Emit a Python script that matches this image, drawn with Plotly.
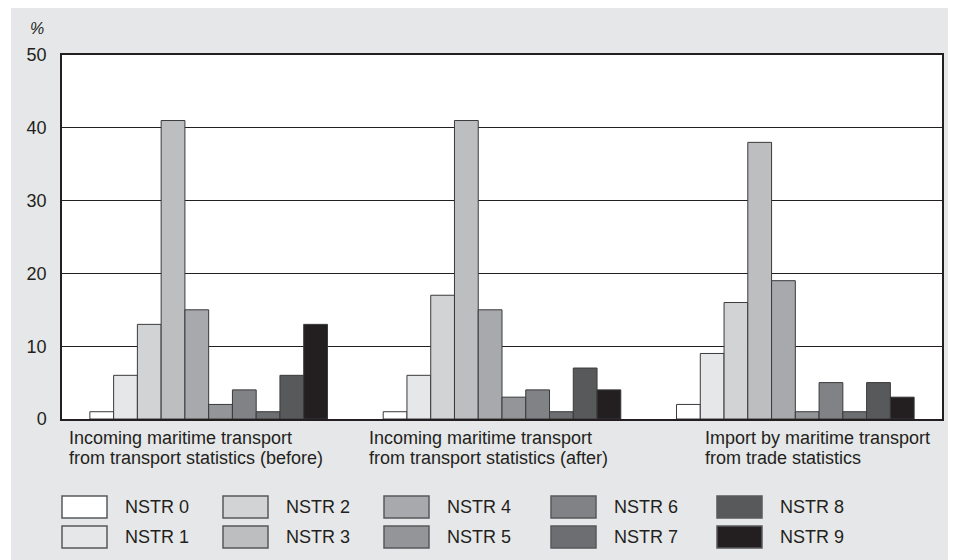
import plotly.graph_objects as go

# ---- data ----
categories = [
    "Incoming maritime transport<br>from transport statistics (before)",
    "Incoming maritime transport<br>from transport statistics (after)",
    "Import by maritime transport<br>from trade statistics",
]
series_names = ["NSTR 0", "NSTR 1", "NSTR 2", "NSTR 3", "NSTR 4",
                "NSTR 5", "NSTR 6", "NSTR 7", "NSTR 8", "NSTR 9"]
nstr0 = [1, 1, 2]
nstr1 = [6, 6, 9]
nstr2 = [13, 17, 16]
nstr3 = [41, 41, 38]
nstr4 = [15, 15, 19]
nstr5 = [2, 3, 1]
nstr6 = [4, 4, 5]
nstr7 = [1, 1, 1]
nstr8 = [6, 7, 5]
nstr9 = [13, 4, 3]
series_values = [nstr0, nstr1, nstr2, nstr3, nstr4, nstr5, nstr6, nstr7, nstr8, nstr9]
y_ticks = [0, 10, 20, 30, 40, 50]
y_unit = "%"

# ---- styles ----
colors = ["#ffffff", "#e6e7e8", "#d1d3d4", "#bcbec0", "#a7a9ac",
          "#939598", "#808285", "#6d6e71", "#58595b", "#231f20"]
FONT = "Liberation Sans, Arial, sans-serif"
TXT = "#231f20"
OFF = 8  # page body margin
W, H = 956 - OFF, 560 - OFF
# plot area in page pixels
PL, PR, PT, PB = 62, 942, 55, 419
L, R, T, B = PL - OFF, PR - OFF, PT - OFF, PB - OFF


def px2x(p):  # page x pixel -> paper
    return (p - OFF - L) / (R - L)


def py2y(p):  # page y pixel -> paper
    return (B - (p - OFF)) / (B - T)


fig = go.Figure()
for name, col, vals in zip(series_names, colors, series_values):
    fig.add_bar(x=categories, y=vals, name=name,
                marker=dict(color=col, line=dict(color="#3a3a3c", width=1)))

shapes = []
annotations = []

# extra white strip on the left (page x 8..11)
shapes.append(dict(type="rect", xref="paper", yref="paper",
                   x0=px2x(OFF), x1=px2x(11), y0=py2y(560), y1=py2y(OFF),
                   fillcolor="white", line=dict(width=0), layer="above"))

# category labels (left aligned, two lines)
label_left = [67, 367, 703]
for cat, xl in zip(categories, label_left):
    for i, line in enumerate(cat.split("<br>")):
        annotations.append(dict(text=line, xref="paper", yref="paper",
                                x=px2x(xl), y=py2y(438 + 20 * i),
                                xanchor="left", yanchor="middle", showarrow=False,
                                font=dict(family=FONT, size=18, color=TXT)))

# custom legend
col_left = [62, 223, 384, 551, 717]
row_top = [496, 526]
for k, (name, col) in enumerate(zip(series_names, colors)):
    c, r = divmod(k, 2)
    x0 = col_left[c]
    y0 = row_top[r]
    shapes.append(dict(type="rect", xref="paper", yref="paper",
                       x0=px2x(x0), x1=px2x(x0 + 45), y0=py2y(y0 + 22), y1=py2y(y0),
                       fillcolor=col, line=dict(color="#58595b", width=1.5), layer="above"))
    annotations.append(dict(text=name, xref="paper", yref="paper",
                            x=px2x(x0 + 61), y=py2y(y0 + 11),
                            xanchor="left", yanchor="middle", showarrow=False,
                            font=dict(family=FONT, size=18, color=TXT)))

# unit label
annotations.append(dict(text="<i>" + y_unit + "</i>", xref="paper", yref="paper",
                        x=px2x(37), y=py2y(28), xanchor="center", yanchor="middle",
                        showarrow=False, font=dict(family=FONT, size=16, color=TXT)))

fig.update_layout(
    width=W, height=H,
    margin=dict(l=L, r=W - R, t=T, b=H - B, pad=0),
    paper_bgcolor="#e6e7e8", plot_bgcolor="white",
    barmode="group", bargap=0.19, bargroupgap=0,
    showlegend=False,
    shapes=shapes, annotations=annotations,
    font=dict(family=FONT, size=18, color=TXT),
)
fig.update_xaxes(type="category", showticklabels=False, ticks="",
                 showgrid=False, showline=True, linecolor="#231f20", linewidth=1.5,
                 mirror=True, zeroline=False)
fig.update_yaxes(range=[0, 50], tickvals=y_ticks, ticks="", ticklabelstandoff=10,
                 showgrid=True, gridcolor="#231f20", gridwidth=1,
                 showline=True, linecolor="#231f20", linewidth=1.5, mirror=True,
                 zeroline=False, tickfont=dict(family=FONT, size=18, color=TXT))

fig.write_html("out.html")
